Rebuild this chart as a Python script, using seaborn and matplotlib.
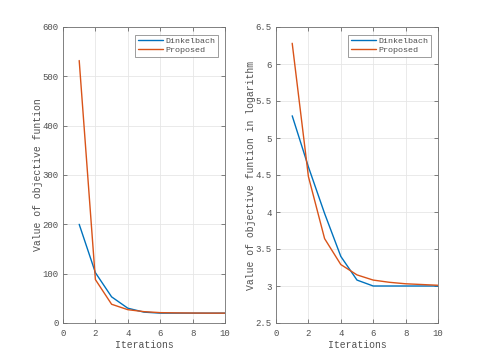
import pandas as pd
import matplotlib
matplotlib.use("Agg")
import matplotlib.pyplot as plt
import seaborn as sns

iterations = [1, 2, 3, 4, 5, 6, 7, 8, 9, 10]
dinkelbach = [200, 102, 53, 30, 22, 20, 20, 20, 20, 20]
proposed = [532, 88, 38, 27, 23, 21, 20.5, 20.2, 20, 20]
dinkelbach_log = [5.30, 4.61, 3.98, 3.40, 3.08, 3.00, 3.00, 3.00, 3.00, 3.00]
proposed_log = [6.28, 4.48, 3.64, 3.29, 3.15, 3.08, 3.05, 3.03, 3.02, 3.01]

series = ["Dinkelbach", "Proposed"]
colors = {"Dinkelbach": "#0072BD", "Proposed": "#D95319"}

df_lin = pd.DataFrame({
    "Iterations": iterations * 2,
    "value": dinkelbach + proposed,
    "method": ["Dinkelbach"] * 10 + ["Proposed"] * 10,
})
df_log = pd.DataFrame({
    "Iterations": iterations * 2,
    "value": dinkelbach_log + proposed_log,
    "method": ["Dinkelbach"] * 10 + ["Proposed"] * 10,
})

sns.set_theme(style="ticks")
plt.rcParams["font.family"] = ["Liberation Mono", "DejaVu Sans Mono"]
gray = "#505050"
plt.rcParams["text.color"] = gray
plt.rcParams["axes.labelcolor"] = gray
plt.rcParams["xtick.color"] = gray
plt.rcParams["ytick.color"] = gray

fig = plt.figure(figsize=(4.85, 3.63), dpi=100)
ax1 = fig.add_axes([63 / 485, 1 - 323 / 363, 162 / 485, 296 / 363])
ax2 = fig.add_axes([276 / 485, 1 - 323 / 363, 162 / 485, 296 / 363])

panels = [
    (ax1, df_lin, (0, 600), [0, 100, 200, 300, 400, 500, 600], "Value of objective funtion"),
    (ax2, df_log, (2.5, 6.5), [2.5, 3, 3.5, 4, 4.5, 5, 5.5, 6, 6.5], "Value of objective funtion in logarithm"),
]

for ax, df, ylim, yticks, ylabel in panels:
    sns.lineplot(data=df, x="Iterations", y="value", hue="method",
                 hue_order=series, palette=colors, linewidth=1.0, ax=ax)
    ax.set_xlim(0, 10)
    ax.set_ylim(*ylim)
    ax.set_xticks([0, 2, 4, 6, 8, 10])
    ax.set_yticks(yticks)
    ax.set_yticklabels([f"{t:g}" for t in yticks])
    ax.set_xlabel("Iterations", fontsize=7, labelpad=2)
    ax.set_ylabel(ylabel, fontsize=7, labelpad=0)
    ax.tick_params(direction="in", length=3, width=0.5, labelsize=6.5,
                   top=True, right=True)
    ax.tick_params(axis="x", pad=4)
    ax.tick_params(axis="y", pad=3)
    ax.grid(True, color="#e6e6e6", linewidth=0.6)
    for s in ax.spines.values():
        s.set_visible(True)
        s.set_linewidth(0.6)
        s.set_color("#707070")
    leg = ax.legend(title=None, loc="upper right", fontsize=6,
                    frameon=True, fancybox=False, edgecolor="#707070",
                    borderpad=0.3, handlelength=3.0, handletextpad=0.3,
                    labelspacing=0.15, borderaxespad=0.0,
                    bbox_to_anchor=(0.955, 0.973))
    leg.get_frame().set_linewidth(0.6)

fig.savefig("out.png", dpi=100)
